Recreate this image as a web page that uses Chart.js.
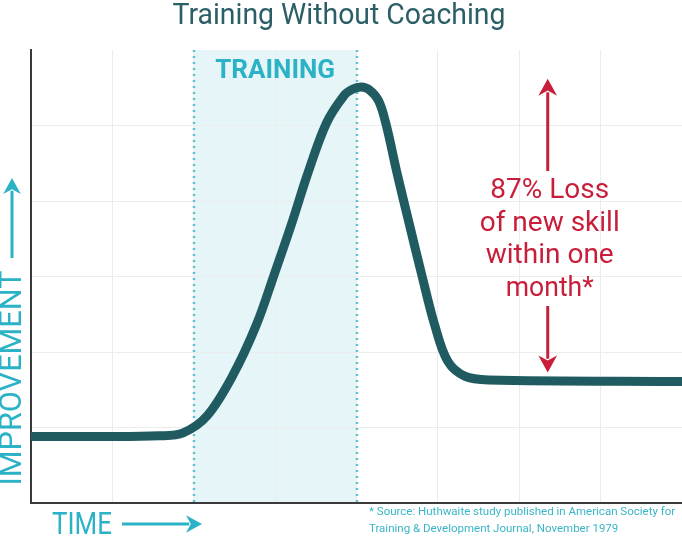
<!DOCTYPE html>
<html lang="en">
  <head>
    <meta charset="UTF-8" />
    <title>Training Without Coaching</title>
  </head>
  <style>
   body{
    margin: 0;
    background: #fff;
   }
  </style>
  <body>
    <canvas id="myChart" width="682" height="538"></canvas>
  </body>
  <script src="https://cdn.jsdelivr.net/npm/chart.js@4/dist/chart.umd.min.js"></script>

  <script>
    // time on x (arbitrary units), improvement on y
    var timeData = [0, 0.85, 1.58, 1.87, 2.16, 2.48, 2.77, 2.99, 3.2, 3.4, 3.63, 3.85, 3.95, 4.06, 4.16, 4.27, 4.36, 4.5, 4.65, 4.8, 4.96, 5.12, 5.33, 5.63, 8];
    var improvementData = [0.88, 0.88, 0.89, 0.93, 1.15, 1.69, 2.36, 3.03, 3.69, 4.36, 5.03, 5.4, 5.48, 5.51, 5.47, 5.33, 5.03, 4.36, 3.69, 3.03, 2.36, 1.88, 1.68, 1.63, 1.61];
    var trainingStart = 2;
    var trainingEnd = 4;
    var lossLines = ['87% Loss', 'of new skill', 'within one', 'month*'];
    var sourceLines = ['* Source: Huthwaite study published in American Society for', 'Training & Development Journal, November 1979'];

    var teal = '#2bb2c6';
    var dark = '#1f5b60';
    var red = '#c81e3a';

    function arrow(ctx, x1, y1, x2, y2, color, w, head) {
      var a = Math.atan2(y2 - y1, x2 - x1);
      ctx.save();
      ctx.strokeStyle = color;
      ctx.fillStyle = color;
      ctx.lineWidth = w;
      ctx.beginPath();
      ctx.moveTo(x1, y1);
      ctx.lineTo(x2 - Math.cos(a) * head * 0.8, y2 - Math.sin(a) * head * 0.8);
      ctx.stroke();
      ctx.beginPath();
      ctx.moveTo(x2, y2);
      ctx.lineTo(x2 - Math.cos(a) * head - Math.sin(a) * head * 0.55, y2 - Math.sin(a) * head + Math.cos(a) * head * 0.55);
      ctx.lineTo(x2 - Math.cos(a) * head * 0.7, y2 - Math.sin(a) * head * 0.7);
      ctx.lineTo(x2 - Math.cos(a) * head + Math.sin(a) * head * 0.55, y2 - Math.sin(a) * head - Math.cos(a) * head * 0.55);
      ctx.closePath();
      ctx.fill();
      ctx.restore();
    }

    var bandPlugin = {
      id: 'band',
      beforeDraw: function(chart) {
        var ctx = chart.ctx;
        var area = chart.chartArea;
        var x = chart.scales.x;
        var x1 = x.getPixelForValue(trainingStart);
        var x2 = x.getPixelForValue(trainingEnd);
        ctx.save();
        ctx.fillStyle = '#e6f5f8';
        ctx.fillRect(x1, area.top, x2 - x1, area.bottom - area.top);
        ctx.restore();
      },
      beforeDatasetsDraw: function(chart) {
        var ctx = chart.ctx;
        var area = chart.chartArea;
        var x = chart.scales.x;
        ctx.save();
        ctx.strokeStyle = '#62c0d1';
        ctx.lineWidth = 2.5;
        ctx.setLineDash([2, 4]);
        [trainingStart, trainingEnd].forEach(function(v) {
          var px = Math.round(x.getPixelForValue(v));
          ctx.beginPath();
          ctx.moveTo(px, area.top);
          ctx.lineTo(px, area.bottom);
          ctx.stroke();
        });
        ctx.setLineDash([]);
        ctx.fillStyle = teal;
        ctx.font = 'bold 26px Roboto';
        ctx.textAlign = 'center';
        ctx.textBaseline = 'middle';
        ctx.fillText('TRAINING', (x.getPixelForValue(trainingStart) + x.getPixelForValue(trainingEnd)) / 2, 71, 125);
        ctx.restore();
      }
    };

    var textPlugin = {
      id: 'texts',
      afterDraw: function(chart) {
        var ctx = chart.ctx;
        var x = chart.scales.x;
        var y = chart.scales.y;
        ctx.save();
        ctx.textAlign = 'center';
        ctx.textBaseline = 'middle';

        // title
        ctx.fillStyle = '#2b5f66';
        ctx.font = '29px Roboto';
        ctx.fillText('Training Without Coaching', 339, 17, 333);

        // y axis label
        ctx.save();
        ctx.translate(13, 378);
        ctx.rotate(-Math.PI / 2);
        ctx.fillStyle = teal;
        ctx.font = '31px Roboto';
        ctx.fillText('IMPROVEMENT', 0, 0, 215);
        ctx.restore();
        arrow(ctx, 12, 258, 12, 178, teal, 3, 16);

        // x axis label
        ctx.fillStyle = teal;
        ctx.font = '31px Roboto';
        ctx.fillText('TIME', 82, 526, 60);
        arrow(ctx, 122, 524, 202, 524, teal, 3, 16);

        // source note
        ctx.textAlign = 'left';
        ctx.fillStyle = '#3ab5c8';
        ctx.font = '11.5px Roboto';
        ctx.fillText(sourceLines[0], 369, 512, 311);
        ctx.fillText(sourceLines[1], 369, 529, 311);

        // loss annotation
        var ax = x.getPixelForValue(6.35);
        ctx.textAlign = 'center';
        ctx.fillStyle = red;
        ctx.font = '28px Roboto';
        var widths = [128, 150, 134, 88];
        lossLines.forEach(function(t, i) {
          ctx.fillText(t, ax + 2, 191 + i * 32.5, widths[i]);
        });
        arrow(ctx, ax, 171, ax, y.getPixelForValue(5.62), red, 3, 17);
        arrow(ctx, ax, 306, ax, y.getPixelForValue(1.73), red, 3, 17);
        ctx.restore();
      }
    };

    window.onload = function() {
      var points = timeData.map(function(t, i) {
        return { x: t, y: improvementData[i] };
      });
      var ctx = document.getElementById('myChart');
      new Chart(ctx, {
        type: 'line',
        data: {
          datasets: [{
            label: 'Improvement',
            data: points,
            borderColor: dark,
            borderWidth: 9,
            pointRadius: 0,
            tension: 0.35,
            borderCapStyle: 'round',
            borderJoinStyle: 'round',
            fill: false
          }]
        },
        options: {
          responsive: false,
          animation: false,
          layout: { padding: { left: 31, top: 50, right: 0, bottom: 35 } },
          plugins: {
            legend: { display: false },
            tooltip: { enabled: false }
          },
          scales: {
            x: {
              type: 'linear',
              min: 0,
              max: 8,
              ticks: { display: false, stepSize: 1 },
              grid: { color: '#ececec', drawTicks: false },
              border: { color: '#3a3a3a', width: 2 }
            },
            y: {
              min: 0,
              max: 6,
              ticks: { display: false, stepSize: 1 },
              grid: {
                drawTicks: false,
                color: function(c) { return c.tick && c.tick.value === 6 ? 'rgba(0,0,0,0)' : '#ececec'; }
              },
              border: { color: '#3a3a3a', width: 2 }
            }
          }
        },
        plugins: [bandPlugin, textPlugin]
      });
    };
  </script>
</html>
